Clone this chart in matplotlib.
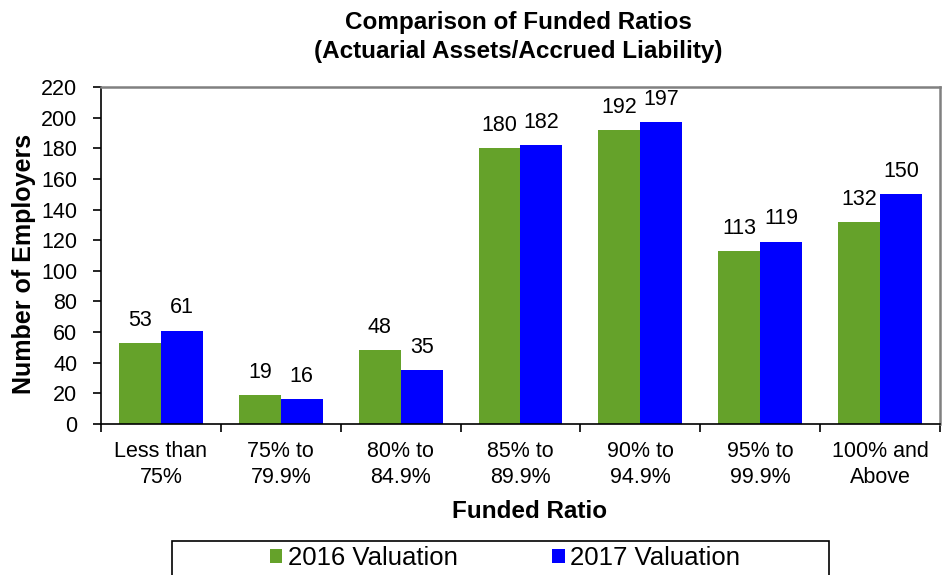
import matplotlib.pyplot as plt
from matplotlib.patches import Rectangle
import numpy as np

plt.rcParams['font.family'] = ['Liberation Sans', 'DejaVu Sans']

categories = ["Less than\n75%", "75% to\n79.9%", "80% to\n84.9%", "85% to\n89.9%",
              "90% to\n94.9%", "95% to\n99.9%", "100% and\nAbove"]
val_2016 = [53, 19, 48, 180, 192, 113, 132]
val_2017 = [61, 16, 35, 182, 197, 119, 150]

green = "#65A22A"
blue = "#0000FF"

W, H = 945, 575
fig = plt.figure(figsize=(W / 100, H / 100), dpi=100)
ax = fig.add_axes([101 / W, 1 - 424 / H, 839 / W, 337 / H])

x = np.arange(len(categories))
w = 0.35
b1 = ax.bar(x - w / 2, val_2016, w, color=green, label="2016 Valuation")
b2 = ax.bar(x + w / 2, val_2017, w, color=blue, label="2017 Valuation")

for bars in (b1, b2):
    for r in bars:
        ax.text(r.get_x() + r.get_width() / 2, r.get_height() + 8, f"{int(r.get_height())}",
                ha="center", va="bottom", fontsize=15.5)

ax.set_xlim(-0.5, len(categories) - 0.5)
ax.set_ylim(0, 220)
ax.set_yticks(range(0, 221, 20))
ax.tick_params(axis="y", labelsize=15.5, direction="out", length=6, width=1.2, pad=11)
ax.set_xticks(np.arange(-0.5, len(categories), 1))
ax.set_xticklabels([])
ax.set_xticks(x, minor=True)
ax.set_xticklabels(categories, minor=True, fontsize=15.5, linespacing=1.35)
ax.tick_params(axis="x", which="major", direction="out", length=6, width=1.2)
ax.tick_params(axis="x", which="minor", length=0, pad=12)

for s in ("top", "right"):
    ax.spines[s].set_color("#808080")
    ax.spines[s].set_linewidth(1.8)
for s in ("left", "bottom"):
    ax.spines[s].set_color("black")
    ax.spines[s].set_linewidth(1.2)

fig.text(24 / W, 1 - 264 / H, "Number of Employers", rotation=90, ha="center", va="center",
         fontsize=18, fontweight="bold")
fig.text(530 / W, 1 - 511 / H, "Funded Ratio", ha="center", va="center",
         fontsize=17.5, fontweight="bold")
fig.text(518 / W, 1 - 37 / H, "Comparison of Funded Ratios\n(Actuarial Assets/Accrued Liability)",
         ha="center", va="center", fontsize=17.5, fontweight="bold", linespacing=1.3)

# legend frame runs off the bottom edge like in the original
fig.patches.append(Rectangle((172 / W, -0.05), 657 / W, 0.05 + 1 - 541 / H,
                             transform=fig.transFigure, fill=False, edgecolor="black",
                             linewidth=1.2))
fig.legend(loc="center", bbox_to_anchor=(505 / W, 1 - 558 / H), ncol=2, fontsize=18.5,
           frameon=False, handlelength=0.5, handleheight=0.5, handletextpad=0.2,
           columnspacing=3.7, borderpad=0)

fig.savefig("out.png", dpi=100)
